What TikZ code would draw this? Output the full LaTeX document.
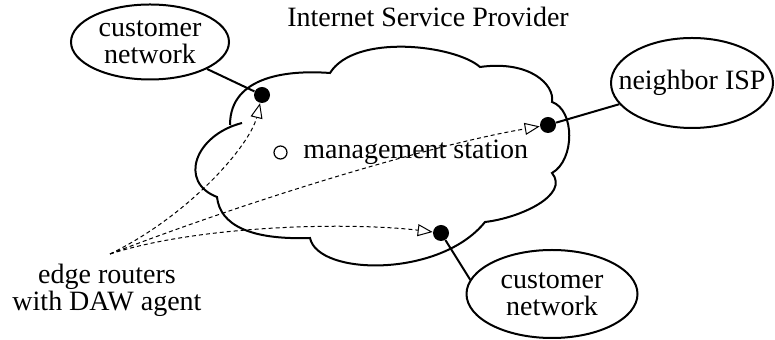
\documentclass[tikz,border=0pt]{standalone}
\usepackage{fontspec}
\setmainfont{Liberation Serif}
\usetikzlibrary{shapes.geometric,arrows.meta}
\begin{document}
\begin{tikzpicture}[x=0.5pt,y=-0.5pt,
  txt/.style={font=\fontsize{14}{13.5}\selectfont,inner sep=0pt},
  cloudline/.style={line width=1pt},
  net/.style={ellipse,draw,line width=1pt,inner sep=0pt,align=center,font=\fontsize{14}{13.5}\selectfont},
  dot/.style={circle,fill=black,inner sep=0pt,minimum size=8pt},
  link/.style={line width=1pt},
  msg/.style={line width=0.5pt,dash pattern=on 2pt off 1.5pt,
    -{Triangle[open,length=7.5pt,width=6pt,line width=0.5pt]}}]
\useasboundingbox (0,0) rectangle (775,340);

% cloud
\draw[cloudline] (242,123) .. controls (195,135) and (178,182) .. (217,197)
  .. controls (220,225) and (250,240) .. (310,238)
  .. controls (318,276) and (440,278) .. (485,222)
  .. controls (520,218) and (570,195) .. (552,173)
  .. controls (575,160) and (575,110) .. (552,102)
  .. controls (555,85) and (530,60) .. (480,67)
  .. controls (455,45) and (355,33) .. (330,73)
  .. controls (290,70) and (230,75) .. (230,125);

% title
\node[txt,anchor=base] (isp) at (428,27) {Internet Service Provider};

% networks
\node[net,minimum width=79pt,minimum height=37.5pt] (cn1) at (150,42) {customer\\network};
\node[net,minimum width=81pt,minimum height=45pt] (nb) at (692,83) {\makebox[0pt]{neighbor ISP}};
\node[net,minimum width=85.5pt,minimum height=44pt] (cn2) at (552,294) {customer\\network};

% edge routers
\node[dot] (d1) at (262,95) {};
\node[dot] (d2) at (548,125) {};
\node[dot] (d3) at (441,233) {};

% management station
\node[circle,draw,line width=0.6pt,inner sep=0pt,minimum size=6.5pt] (ms) at (280.5,152.5) {};
\node[txt,anchor=base west] (mslabel) at (303,159) {management station};

% edge router label
\coordinate (o) at (110,254);
\node[txt,align=center] (er) at (107,290) {edge routers\\with DAW agent};

% links
\draw[link] (cn1) -- (d1);
\draw[link] (d2) -- (nb);
\draw[link] (d3) -- (cn2.170);

% dashed arrows
\draw[msg] (o) .. controls (190,215) and (250,145) .. (d1);
\draw[msg] (o) .. controls (250,200) and (430,145) .. (d2);
\draw[msg] (o) .. controls (200,225) and (350,222) .. (d3);
\end{tikzpicture}
\end{document}
